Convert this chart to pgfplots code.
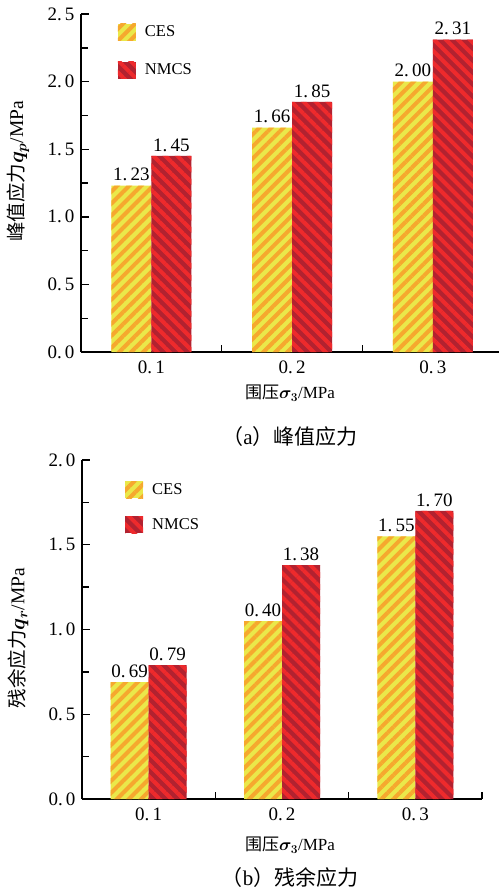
\documentclass[border=0pt]{standalone}
\usepackage{amsmath}
\usepackage{bm}
\usepackage{pgfplots}
\pgfplotsset{compat=1.18}
\usepackage{fontspec}
\setmainfont{Liberation Serif}
\newfontfamily\cjk{Noto Sans CJK SC}
\usetikzlibrary{patterns.meta}
\definecolor{cesbase}{HTML}{EAE84A}
\definecolor{cesstripe}{HTML}{F6A82E}
\definecolor{nmbase}{HTML}{B22230}
\definecolor{nmstripe}{HTML}{EE2A2C}
\pgfplotsset{
  cesstyle/.style={fill=cesbase, draw=none,
    postaction={pattern={Lines[angle=45,distance=8.5pt,line width=4pt]}, pattern color=cesstripe}},
  nmstyle/.style={fill=nmbase, draw=none,
    postaction={pattern={Lines[angle=-45,distance=8.5pt,line width=4pt]}, pattern color=nmstripe}},
  common/.style={
    scale only axis,
    axis x line*=bottom, axis y line*=left,
    axis line style={line width=1.6pt},
    ybar=0pt,
    xtick={0,1,2},
    minor xtick={0.5,1.5,2.5},
    every major x tick/.append style={draw=none},
    minor y tick num=1,
    tick align=inside,
    major tick length=8pt, minor tick length=7pt,
    every tick/.append style={line width=1.4pt, black},
    tick label style={font=\fontsize{19}{19}\selectfont},
    xticklabel style={yshift=-5pt},
    yticklabel style={xshift=-3pt},
    point meta=explicit symbolic,
    nodes near coords,
    every node near coord/.append style={font=\fontsize{19}{19}\selectfont, yshift=1pt},
    legend style={draw=none, fill=none, font=\fontsize{16.5}{16.5}\selectfont, row sep=18pt,
      cells={anchor=west}, inner sep=0pt},
    legend image code/.code={\path[#1] (0pt,-8.5pt) rectangle (18pt,8.5pt); \path (25pt,0pt);},
    clip=false,
  },
}
\begin{document}
\begin{tikzpicture}
\useasboundingbox (0,0) rectangle (499pt,-892pt);
% ---------- (a) ----------
\begin{axis}[common,
  at={(81pt,-352pt)}, anchor=south west,
  width=418pt, height=338pt,
  xmin=-0.5, xmax=2.47,
  ymin=0, ymax=2.5,
  ytick={0,0.5,1,1.5,2,2.5},
  yticklabels={0.\,0,0.\,5,1.\,0,1.\,5,2.\,0,2.\,5},
  xticklabels={0.\,1,0.\,2,0.\,3},
  bar width=40pt,
  legend style={at={(axis description cs:0.088,0.972)}, anchor=north west, row sep=21pt},
  ylabel={{\cjk 峰值应力}$\bm{q_p}$/MPa},
  ylabel style={font=\fontsize{19.5}{19.5}\selectfont, at={(axis description cs:-0.151,0.535)}, anchor=center},
  xlabel={{\cjk 围压}$\bm{\sigma_3}$/MPa},
  xlabel style={font=\fontsize{17}{17}\selectfont, at={(axis description cs:0.5,0)}, anchor=center, yshift=-41pt},
]
\addplot[cesstyle] coordinates {(0,1.23)[1.\,23] (1,1.66)[1.\,66] (2,2.00)[2.\,00]};
\addplot[nmstyle] coordinates {(0,1.45)[1.\,45] (1,1.85)[1.\,85] (2,2.31)[2.\,31]};
\legend{CES,NMCS}
\end{axis}
\node[font=\fontsize{21}{21}\selectfont] at (290pt,-437pt) {{\cjk （}a{\cjk ）峰值应力}};
% ---------- (b) ----------
\begin{axis}[common,
  at={(82pt,-799pt)}, anchor=south west,
  width=400pt, height=339pt,
  xmin=-0.5, xmax=2.5,
  ymin=0, ymax=2.0,
  ytick={0,0.5,1,1.5,2},
  yticklabels={0.\,0,0.\,5,1.\,0,1.\,5,2.\,0},
  xticklabels={0.\,1,0.\,2,0.\,3},
  bar width=38pt,
  legend style={at={(axis description cs:0.1075,0.938)}, anchor=north west},
  ylabel={{\cjk 残余应力}$\bm{q_r}$/MPa},
  ylabel style={font=\fontsize{19.5}{19.5}\selectfont, at={(axis description cs:-0.16,0.475)}, anchor=center},
  xlabel={{\cjk 围压}$\bm{\sigma_3}$/MPa},
  xlabel style={font=\fontsize{17}{17}\selectfont, at={(axis description cs:0.52,0)}, anchor=center, yshift=-46pt},
]
\addplot[cesstyle] coordinates {(0,0.69)[0.\,69] (1,1.05)[0.\,40] (2,1.55)[1.\,55]};
\addplot[nmstyle] coordinates {(0,0.79)[0.\,79] (1,1.38)[1.\,38] (2,1.70)[1.\,70]};
\legend{CES,NMCS}
\end{axis}
\node[font=\fontsize{21}{21}\selectfont] at (290pt,-878pt) {{\cjk （}b{\cjk ）残余应力}};
\end{tikzpicture}
\end{document}
